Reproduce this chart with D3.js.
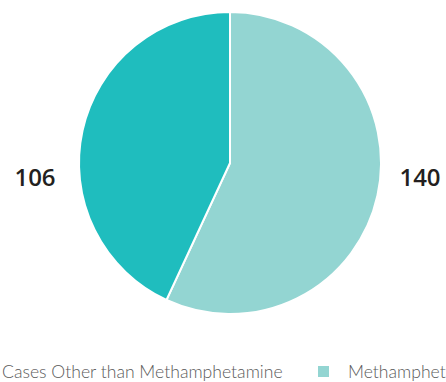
<!DOCTYPE html>
<html>
<head>
<meta charset="utf-8">
<script src="https://cdn.jsdelivr.net/npm/d3@7"></script>
<style>
  html, body { margin: 0; padding: 0; background: #fff; overflow: hidden; }
  svg { display: block; }
</style>
</head>
<body>
<svg id="chart" width="446" height="382"></svg>
<script>
// Case counts by drug category
const categories = ["Cases Other than Methamphetamine", "Methamphetamine"];
const caseCounts = [106, 140];
const sliceColors = ["#1fbdbe", "#93d5d2"];

const svg = d3.select("#chart");
const cx = 230, cy = 163, radius = 151;

// Methamphetamine slice starts at 12 o'clock and runs clockwise
const slices = categories.map((c, i) => ({ name: c, value: caseCounts[i], color: sliceColors[i] }));
const ordered = [slices[1], slices[0]];

const pie = d3.pie().value(d => d.value).sort(null);
const arc = d3.arc().innerRadius(0).outerRadius(radius);

const g = svg.append("g").attr("transform", `translate(${cx},${cy})`);
g.selectAll("path")
  .data(pie(ordered))
  .join("path")
  .attr("d", arc)
  .attr("fill", d => d.data.color)
  .attr("stroke", "#fff")
  .attr("stroke-width", 2);

// Value labels beside the pie
const valueLabels = [
  { value: caseCounts[0], x: 35 },
  { value: caseCounts[1], x: 420 }
];
svg.selectAll("text.value")
  .data(valueLabels)
  .join("text")
  .attr("class", "value")
  .attr("x", d => d.x)
  .attr("y", 186)
  .attr("text-anchor", "middle")
  .attr("font-family", "'Open Sans', sans-serif")
  .attr("font-size", 24)
  .attr("font-weight", 600)
  .attr("fill", "#231f20")
  .text(d => d.value);

// Legend along the bottom
const legendItems = [
  { name: categories[0], color: sliceColors[0], x: -28 },
  { name: categories[1], color: sliceColors[1], x: 318 }
];
const lg = svg.selectAll("g.legend")
  .data(legendItems)
  .join("g")
  .attr("class", "legend")
  .attr("transform", d => `translate(${d.x},366)`);
lg.append("rect")
  .attr("width", 11)
  .attr("height", 11)
  .attr("fill", d => d.color);
lg.append("text")
  .attr("x", 30)
  .attr("y", 12)
  .attr("font-family", "Lato, 'Open Sans', sans-serif")
  .attr("font-size", 17.6)
  .attr("font-weight", 300)
  .attr("fill", "#5a5a5a")
  .text(d => d.name);
</script>
</body>
</html>
